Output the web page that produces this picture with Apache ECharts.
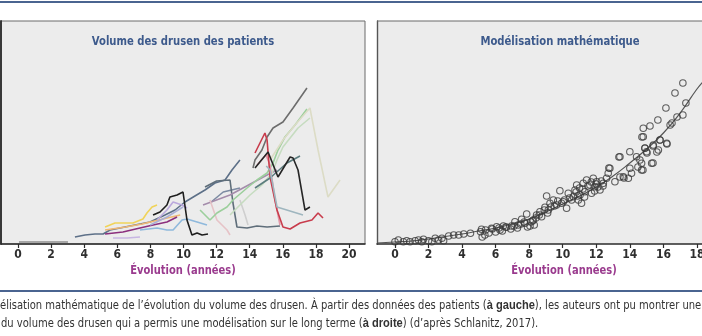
<!DOCTYPE html>
<html><head><meta charset="utf-8">
<script src="https://cdn.jsdelivr.net/npm/echarts@6/dist/echarts.min.js"></script>
<style>html,body{margin:0;padding:0;background:#fff}#c{width:702px;height:336px}</style>
</head><body><div id="c"></div>
<script>
// ---- data (x in years, y in arbitrary volume units) ----
const leftTicks = [0,2,4,6,8,10,12,14,16,18,20];
const rightTicks = [0,2,4,6,8,10,12,14,16,18];

const p01 = [[0.06,2],[3.02,2]];
const p02 = [[3.44,7],[4.05,9],[4.65,10],[5.14,10],[5.56,14],[6.16,16],[7.07,19],[7.98,22],[8.88,29],[9.49,34],[10.09,42],[10.69,48],[11.3,54],[11.9,61],[12.51,64],[12.93,74],[13.41,84]];
const p03 = [[5.26,17],[5.86,21],[6.95,21],[7.55,25],[7.79,31],[8.1,37],[8.4,39]];
const p04 = [[5.26,14],[6.5,17],[7.5,20],[8.5,24],[9.8,29]];
const p05 = [[5.26,10],[6.34,12],[7.37,16],[8.16,19],[9.0,22],[9.61,27]];
const p06 = [[5.74,6],[6.6,6],[7.37,7]];
const p07 = [[8.16,29],[8.58,32],[9.0,39],[9.18,47],[9.61,49],[9.97,52],[10.21,24],[10.51,9],[10.82,11],[11.12,9],[11.48,10]];
const p08 = [[7.37,14],[8.4,16],[9.0,14],[9.37,14],[9.91,24],[10.21,25],[10.82,22],[11.42,19]];
const p09 = [[8.4,24],[9.0,34],[9.37,42],[9.91,39],[10.21,36]];
const p10 = [[11.0,34],[11.6,24],[12.02,31],[12.63,37],[12.99,44],[13.84,56],[14.44,64],[15.05,71],[15.41,81],[15.71,94],[16.13,107],[16.74,119],[17.46,135]];
const p11 = [[12.81,29],[13.41,39],[14.02,49],[14.74,59],[15.35,71],[15.65,84],[16.01,97],[16.92,116],[17.64,126]];
const p12 = [[15.23,84],[16.01,104],[16.74,119],[17.64,136],[18.13,94],[18.73,47],[19.46,64]];
const p13 = [[14.2,76],[14.32,84],[14.74,94],[15.05,107],[15.41,116],[16.01,122],[16.62,136],[17.04,146],[17.46,156]];
const p14 = [[14.32,91],[14.92,111],[15.05,104],[15.23,67],[15.65,34],[16.01,17],[16.44,15],[17.04,21],[17.76,24],[18.13,31],[18.43,26]];
const p15 = [[14.44,79],[14.98,89],[15.23,79],[15.53,44],[15.83,19]];
const p16 = [[14.32,76],[15.11,92],[15.71,67],[16.44,87],[16.62,86],[16.92,74],[17.34,34],[17.64,37]];
const p17 = [[14.32,56],[15.23,66],[16.25,81],[17.04,88]];
const p18 = [[15.0,78],[15.23,74],[15.65,37],[17.22,29]];
const p19 = [[11.3,57],[12.0,63],[12.81,64],[12.99,41],[13.23,17],[13.84,16],[14.44,18],[15.05,17],[15.83,18]];
const p20 = [[11.18,39],[12.81,49],[15.05,69],[15.65,74]];
const p21 = [[11.6,44],[12.02,24],[12.63,14],[12.81,9]];
const p22 = [[11.6,41],[12.4,52],[13.41,56]];
const p23 = [[13.41,44],[13.72,29],[13.9,19]];
const p24 = [[7.98,19],[9.0,27],[9.97,37]];
const patientLines = [p01,p02,p03,p04,p05,p06,p24,p08,p09,p22,p19,p20,p21,p23,p10,p11,p12,p13,p15,p14,p17,p18,p07,p16];

const modelPoints = [
 [0,2.3],[0.2,4],[0.5,2.3],[0.7,3.3],[0.9,2.3],[1.2,3.3],[1.4,4],[1.6,2.3],[1.7,4.7],[2.0,3.3],[2.2,2.3],[2.4,5.7],[2.6,4],[2.8,5.7],[2.9,3.3],[3.2,8],[3.5,9],[3.8,9],[4.1,10],[4.5,10.7],
 [5.1,12.3],[5.2,7],[5.4,14],[5.6,11],[5.8,15],[6.0,12],[6.2,16],[6.4,13],[6.6,17],[6.9,15],[7.1,18],[7.3,16],[7.5,20],[7.7,22],[7.9,17],[8.1,22],[8.3,19],
 [5.16,14.7],[5.36,9],[5.76,15.7],[6.06,17.3],[6.26,14],[6.46,18],[6.65,16.7],[6.95,18],[7.15,22.3],[7.35,19],[7.55,24.7],[7.75,20.7],[7.85,30],[8.05,18],[8.24,24],[8.44,29],[8.64,32.3],[8.74,27.3],[8.94,36.7],[9.04,48],[9.14,34],[9.24,40.7],[9.44,44],[9.63,39],[9.83,53.3],[9.93,40.7],[10.03,42.3],[10.23,35.7],[10.33,50.7],[10.53,44],[10.63,47.3],[10.73,54],[10.83,59],[10.93,44],[11.03,49],[11.12,40.7],[11.22,60.7],[11.32,52.3],[11.42,64],[11.62,59],[11.72,50.7],[11.82,65.7],[11.92,57.3],[12.02,62.3],[12.22,54],[12.42,60.7],[12.61,65.7],[12.71,70.7],[12.81,75.7],[13.11,62.3],[13.41,87.3],[13.61,67.3],[13.91,65.7],[14.0,92.3],[14.0,75.7],[14.1,70.7],[14.4,87.3],[14.7,80.7],[14.7,74],[14.8,107.3],[14.8,115.7],[14.9,95.7],[15.0,92.3],[15.2,118],[15.3,80.7],[15.4,99],[15.7,94],[15.8,104],[16.2,100.7],[16.4,119],
 [17.16,161],[16.69,151],[17.34,141],[16.15,136],[17.16,129],[16.81,127],[16.51,121],[15.67,124],[14.72,107],[15.79,104],[16.21,100],[14.9,96],[15.38,98],[15.02,91],[15.61,92],[13.35,87],[14.6,84],[15.38,81],[12.75,76],[14.48,77],[14.78,74],[13.41,67],[13.65,66],
 [10.8,52],[11.0,56],[11.2,55],[11.5,58],[11.7,62],[12.0,60],[12.1,57],[12.3,63],[11.9,53],[12.4,58],[11.3,47],[10.9,48],[10.4,46],[10.1,44],[9.7,43],[9.5,38],[9.3,37],[9.1,31],[8.9,34],[8.6,29],[8.4,26],[8.2,23]
];
const modelCurve = [[-1.07,1],[0,2],[1,3],[2,5],[3,7.5],[4,10],[5,13],[6,16],[7,20],[8,25],[9,32],[10,40],[11,48],[12,57],[13,68],[14,81],[15,95],[16,111],[17,131],[18,155],[18.4,163]];

const titleLeft = 'Volume des drusen des patients';
const titleRight = 'Modélisation mathématique';
const axisName = 'Évolution (années)';
const caption1 = 'élisation mathématique de l\u2019évolution du volume des drusen. À partir des données des patients ({b|à gauche}), les auteurs ont pu montrer une';
const caption2 = 'du volume des drusen qui a permis une modélisation sur le long terme ({b|à droite}) (d\u2019après Schlanitz, 2017).';

// ---- styles ----
const lineColors = ['#8f8f8f','#5d7088','#f0d35a','#efb774','#8b2f7d','#c7b6e2','#aab0d6','#8fb9dc','#bba9dd','#7c8ba2','#5f6e7a','#a48cab','#e6c3c7','#cfcfcf','#9ccf9c','#c6dcc0','#dcdcc6','#6d6d6d','#e39aaa','#c83c4c','#5b7c7e','#9fb6bf','#1e1e1e','#262626'];
const FONT = "'Liberation Sans Narrow','DejaVu Sans Condensed','Roboto',sans-serif";

const chart = echarts.init(document.getElementById('c'), null, {renderer:'canvas'});
const axisCommon = {
  type:'value',
  axisLine:{show:true,onZero:false,lineStyle:{color:'#2b2b2b',width:1.6}},
  axisTick:{show:true,length:4,lineStyle:{color:'#2b2b2b',width:1.2}},
  splitLine:{show:false},
};
const option = {
  animation:false,
  backgroundColor:'#ffffff',
  grid:[
    {left:1,top:21,width:364,height:223,show:true,backgroundColor:'#ececec',borderColor:'#6a6a6a',borderWidth:1,outerBoundsMode:'none',containLabel:false},
    {left:377,top:21,width:325,height:223,show:true,backgroundColor:'#ececec',borderColor:'#6a6a6a',borderWidth:0,outerBoundsMode:'none',containLabel:false}
  ],
  xAxis:[
    Object.assign({}, axisCommon, {gridIndex:0,min:-1.027,max:20.967,
      axisTick:Object.assign({}, axisCommon.axisTick, {customValues:leftTicks}),
      axisLabel:{customValues:leftTicks,margin:5,color:'#2e2e2e',fontWeight:'bold',fontSize:12,fontFamily:FONT}}),
    Object.assign({}, axisCommon, {gridIndex:1,min:-1.07,max:18.3,
      axisTick:Object.assign({}, axisCommon.axisTick, {customValues:rightTicks}),
      axisLabel:{customValues:rightTicks,margin:5,color:'#2e2e2e',fontWeight:'bold',fontSize:12,fontFamily:FONT}})
  ],
  yAxis:[
    {type:'value',gridIndex:0,min:0,max:223,axisLine:{show:true,onZero:false,lineStyle:{color:'#2b2b2b',width:1.8}},axisTick:{show:false},axisLabel:{show:false},splitLine:{show:false}},
    {type:'value',gridIndex:1,min:0,max:223,axisLine:{show:true,onZero:false,lineStyle:{color:'#555',width:1.4}},axisTick:{show:false},axisLabel:{show:false},splitLine:{show:false}}
  ],
  series:[],
  graphic:[
    {type:'rect',left:0,top:1,shape:{width:702,height:2},style:{fill:'#4a6490'}},
    {type:'rect',left:0,top:290,shape:{width:702,height:2},style:{fill:'#4a6490'}},
    {type:'rect',left:377,top:20.5,shape:{width:325,height:1},style:{fill:'#6a6a6a'},z:10},
    {type:'text',x:183,y:42,scaleX:0.86,style:{text:titleLeft,textAlign:'center',textVerticalAlign:'middle',fill:'#3d5a8c',font:"bold 13px "+FONT}},
    {type:'text',x:560,y:42,scaleX:0.86,style:{text:titleRight,textAlign:'center',textVerticalAlign:'middle',fill:'#3d5a8c',font:"bold 13px "+FONT}},
    {type:'text',x:183,y:271,scaleX:0.85,style:{text:axisName,textAlign:'center',textVerticalAlign:'middle',fill:'#9a3b8e',font:"bold 13px "+FONT}},
    {type:'text',x:564,y:271,scaleX:0.85,style:{text:axisName,textAlign:'center',textVerticalAlign:'middle',fill:'#9a3b8e',font:"bold 13px "+FONT}},
    {type:'text',x:0,y:306,scaleX:0.925,style:{text:caption1,textAlign:'left',textVerticalAlign:'middle',fill:'#333',font:"12px "+FONT,rich:{b:{fontWeight:'bold',fill:'#333',font:"bold 12px "+FONT}}}},
    {type:'text',x:1,y:324,scaleX:0.925,style:{text:caption2,textAlign:'left',textVerticalAlign:'middle',fill:'#333',font:"12px "+FONT,rich:{b:{fontWeight:'bold',fill:'#333',font:"bold 12px "+FONT}}}}
  ]
};
patientLines.forEach((d,i)=>{
  option.series.push({type:'line',xAxisIndex:0,yAxisIndex:0,data:d,showSymbol:false,symbol:'none',
    lineStyle:{color:lineColors[i],width:1.6},itemStyle:{color:lineColors[i]},z:2+i/100});
});
option.series.push({type:'line',xAxisIndex:1,yAxisIndex:1,data:modelCurve,smooth:true,showSymbol:false,symbol:'none',
  lineStyle:{color:'#555',width:1.2},z:3});
option.series.push({type:'scatter',xAxisIndex:1,yAxisIndex:1,data:modelPoints,symbol:'circle',symbolSize:6.5,
  itemStyle:{color:'rgba(0,0,0,0)',borderColor:'#3a3a3a',borderWidth:1.1},z:4});
chart.setOption(option);
</script>
</body></html>
